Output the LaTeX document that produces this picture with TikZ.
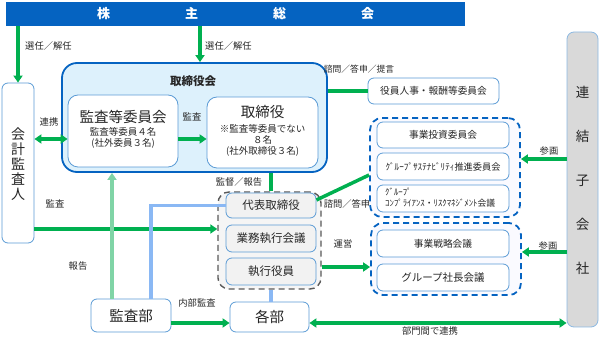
\documentclass[tikz,border=0pt]{standalone}
\usepackage{fontspec}
\setmainfont{Noto Sans CJK JP}
\usetikzlibrary{arrows.meta,calc}
\definecolor{barblue}{HTML}{0563C1}
\definecolor{gr}{HTML}{00B050}
\definecolor{lgr}{HTML}{80D4A6}
\definecolor{lbl}{HTML}{8AB8F4}
\definecolor{bord}{HTML}{5B9BD5}
\definecolor{tfill}{HTML}{DDF1FC}
\definecolor{gfill}{HTML}{F2F2F2}
\definecolor{rfill}{HTML}{D9D9D9}
\definecolor{txt}{HTML}{262626}
\definecolor{dgray}{HTML}{595959}
\begin{document}
\begin{tikzpicture}[x=1pt,y=-1pt,
  box/.style={draw=bord, line width=0.8pt, fill=white, rounded corners=5pt, inner sep=0pt, text=txt},
  graybox/.style={box, fill=gfill},
  bgrp/.style={draw=barblue, line width=1.8pt, dash pattern=on 6pt off 4pt, rounded corners=12pt, fill=blue!2},
  ggrp/.style={draw=dgray, line width=1.4pt, dash pattern=on 6pt off 4pt, rounded corners=11pt, fill=gray!8},
  lab/.style={font=\fontsize{9.3}{11}\selectfont, text=txt, inner sep=0pt},
  sm/.style={font=\fontsize{9.5}{11}\selectfont, text=txt, inner sep=0pt},
  big/.style={font=\fontsize{14.5}{16}\selectfont, text=txt, inner sep=0pt},
  gline/.style={draw=gr, line width=3.5pt},
  garrow/.style={gline, -{Triangle[length=7pt,width=9pt]}},
  gdbl/.style={gline, {Triangle[length=7pt,width=9pt]}-{Triangle[length=7pt,width=9pt]}},
  lgarrow/.style={draw=lgr, line width=3.5pt, -{Triangle[length=7pt,width=9pt]}},
  bline/.style={draw=lbl, line width=3.5pt}
]
\useasboundingbox (0,0) rectangle (600,344);

% top bar
\node[fill=barblue, minimum width=459pt, minimum height=24pt, inner sep=0pt, text=white,
  font=\fontsize{13}{15}\selectfont\bfseries] (bar) at (235.5,14)
  {株\hspace{75pt}主\hspace{75pt}総\hspace{75pt}会};

% left auditor
\node[box, rounded corners=6pt, minimum width=32pt, minimum height=160pt] (kaikei) at (18,163) {};
\node[text=txt, align=center, inner sep=0pt, font=\fontsize{14}{15}\selectfont] (kaikeitxt) at (18,164) {会\\計\\監\\査\\人};

% right subsidiaries
\node[box, draw=bord!70, fill=rfill, rounded corners=7pt, minimum width=31pt, minimum height=295pt] (renketsu) at (582.5,179.5) {};
\node[text=txt, align=center, inner sep=0pt, font=\fontsize{13.5}{44}\selectfont] (renketsutxt) at (582.5,180) {連\\結\\子\\会\\社};

% board
\node[draw=barblue, line width=1.8pt, fill=tfill, rounded corners=15pt, minimum width=265pt, minimum height=109pt] (torikai) at (194.5,117.5) {};
\node[text=txt, inner sep=0pt, font=\fontsize{11.5}{13}\selectfont\bfseries] (torikaitxt) at (193,81) {取締役会};

\node[box, rounded corners=10pt, minimum width=110pt, minimum height=72pt] (kansaiin) at (123,131) {};
\node[big] (kansaiin1) at (123,117) {監査等委員会};
\node[sm] (kansaiin2) at (123,132) {監査等委員４名};
\node[sm] (kansaiin3) at (123,143.5) {(社外委員３名)};

\node[box, rounded corners=10pt, minimum width=111pt, minimum height=71pt] (torishimari) at (262.5,132.5) {};
\node[big] (tori1) at (262.5,112) {取締役};
\node[sm] (tori2) at (262.5,129) {※監査等委員でない};
\node[sm] (tori3) at (262.5,140) {８名};
\node[sm] (tori4) at (262.5,151) {(社外取締役３名)};

% nomination committee
\node[box, rounded corners=6pt, minimum width=131pt, minimum height=26pt, font=\fontsize{9.7}{11}\selectfont] (yakuin) at (433.5,91) {役員人事・報酬等委員会};

% group 1
\node[bgrp, minimum width=150pt, minimum height=99pt] (grp1) at (445,167.5) {};
\node[box, rounded corners=6pt, minimum width=132pt, minimum height=26pt, font=\fontsize{9.7}{11}\selectfont] (toshi) at (443,135) {事業投資委員会};
\node[box, rounded corners=6pt, minimum width=132pt, minimum height=27pt, font=\fontsize{9.2}{11}\selectfont] (sustain) at (443,166.5) {ｸﾞﾙｰﾌﾟｻｽﾃﾅﾋﾞﾘﾃｨ推進委員会};
\node[box, rounded corners=6pt, minimum width=132pt, minimum height=27pt] (compl) at (443,198.5) {};
\node[anchor=west, align=left, text=txt, inner sep=0pt, font=\fontsize{8.8}{11}\selectfont] (compltxt) at (385,198) {ｸﾞﾙｰﾌﾟ\\ｺﾝﾌﾟﾗｲｱﾝｽ・ﾘｽｸﾏﾈｼﾞﾒﾝﾄ会議};

% group 2
\node[bgrp, minimum width=150pt, minimum height=72pt] (grp2) at (446,259) {};
\node[box, rounded corners=6pt, minimum width=132pt, minimum height=27pt, font=\fontsize{9.7}{11}\selectfont] (senryaku) at (443,243.5) {事業戦略会議};
\node[box, rounded corners=6pt, minimum width=132pt, minimum height=27pt, font=\fontsize{10.5}{12}\selectfont] (shacho) at (443,277.5) {グループ社長会議};

% executive group
\node[ggrp, minimum width=103pt, minimum height=97pt] (graygrp) at (269.5,240.5) {};
\node[graybox, rounded corners=6pt, minimum width=90pt, minimum height=25pt, font=\fontsize{11.5}{13}\selectfont] (daihyo) at (271,205.5) {代表取締役};
\node[graybox, rounded corners=6pt, minimum width=90pt, minimum height=27pt, font=\fontsize{11.5}{13}\selectfont] (gyomu) at (271,238.5) {業務執行会議};
\node[graybox, rounded corners=6pt, minimum width=90pt, minimum height=27pt, font=\fontsize{11.5}{13}\selectfont] (shikko) at (271,271.5) {執行役員};

% bottom
\node[box, rounded corners=6pt, minimum width=80pt, minimum height=33pt, font=\fontsize{14.5}{16}\selectfont] (kansabu) at (131,315.5) {監査部};
\node[box, rounded corners=6pt, minimum width=79pt, minimum height=30pt, font=\fontsize{14.5}{16}\selectfont] (kakubu) at (269.5,317) {各部};

% coordinates
\coordinate (t1) at ([xshift=5.5pt]torikai.north);
\coordinate (r1) at ([yshift=-8pt]kansaiin.west);
\coordinate (c7a) at ([yshift=5.5pt]daihyo.east);
\coordinate (c7b) at ([yshift=-7.5pt]grp1.west);
\coordinate (c8) at ([yshift=4.5pt]shikko.east);
\coordinate (c9) at ([yshift=8.5pt]grp1.east);
\coordinate (c10) at ([yshift=7pt]grp2.east);
\coordinate (c11) at ([yshift=11.5pt]graygrp.west);
\coordinate (c12) at ([xshift=-19pt]kansabu.north);
\coordinate (c13) at ([xshift=20pt]kansabu.north);
\coordinate (c15) at ([yshift=-7.5pt]kansabu.east);
\coordinate (c16) at ([yshift=-6pt]kakubu.east);

% connectors
\draw[garrow] (bar.south -| kaikei.north) -- (kaikei.north);
\node[lab, anchor=west] (l1) at (25,46) {選任／解任};
\draw[garrow] (t1 |- bar.south) -- (t1);
\node[lab, anchor=west] (l2) at (205,46) {選任／解任};

\draw[gdbl] (kaikei.east |- r1) -- (r1);
\node[lab] (l3) at (49,122) {連携};
\draw[garrow] (kansaiin.east |- r1) -- (torishimari.west |- r1);
\node[lab] (l4) at (192,117) {監査};

\draw[gline] (torikai.east |- yakuin.west) -- (yakuin.west);
\node[lab, font=\fontsize{8.8}{10}\selectfont] (l5) at (359,69) {諮問／答申／提言};

\draw[gline] (torikai.south -| daihyo.north) -- (graygrp.north -| daihyo.north);
\node[lab] (l6) at (239,182) {監督／報告};

\draw[gline] (c7a) -- (c7b);
\node[lab] (l7) at (347,204) {諮問／答申};

\draw[garrow] (graygrp.east |- c8) -- (grp2.west |- c8);
\node[lab] (l8) at (343,244) {運営};

\draw[garrow] (renketsu.west |- c9) -- (c9);
\node[lab] (l9) at (549,151) {参画};
\draw[garrow] (renketsu.west |- c10) -- (c10);
\node[lab] (l10) at (548,246) {参画};

\draw[garrow] (kaikei.east |- c11) -- (graygrp.west |- c11);
\node[lab] (l11) at (55,204) {監査};

\draw[lgarrow] (c12) -- (c12 |- torikai.south);
\node[lab] (l12) at (78,266) {報告};

\draw[bline] (c13) |- (daihyo.west);
\draw[bline] (graygrp.south -| shikko.south) -- (kakubu.north -| shikko.south);

\draw[garrow] (kansabu.east |- c15) -- (kakubu.west |- c15);
\node[lab] (l15) at (197,303) {内部監査};

\draw[gdbl] (kakubu.east |- c16) -- (renketsu.west |- c16);
\node[lab] (l16) at (430,331) {部門間で連携};
\end{tikzpicture}
\end{document}
